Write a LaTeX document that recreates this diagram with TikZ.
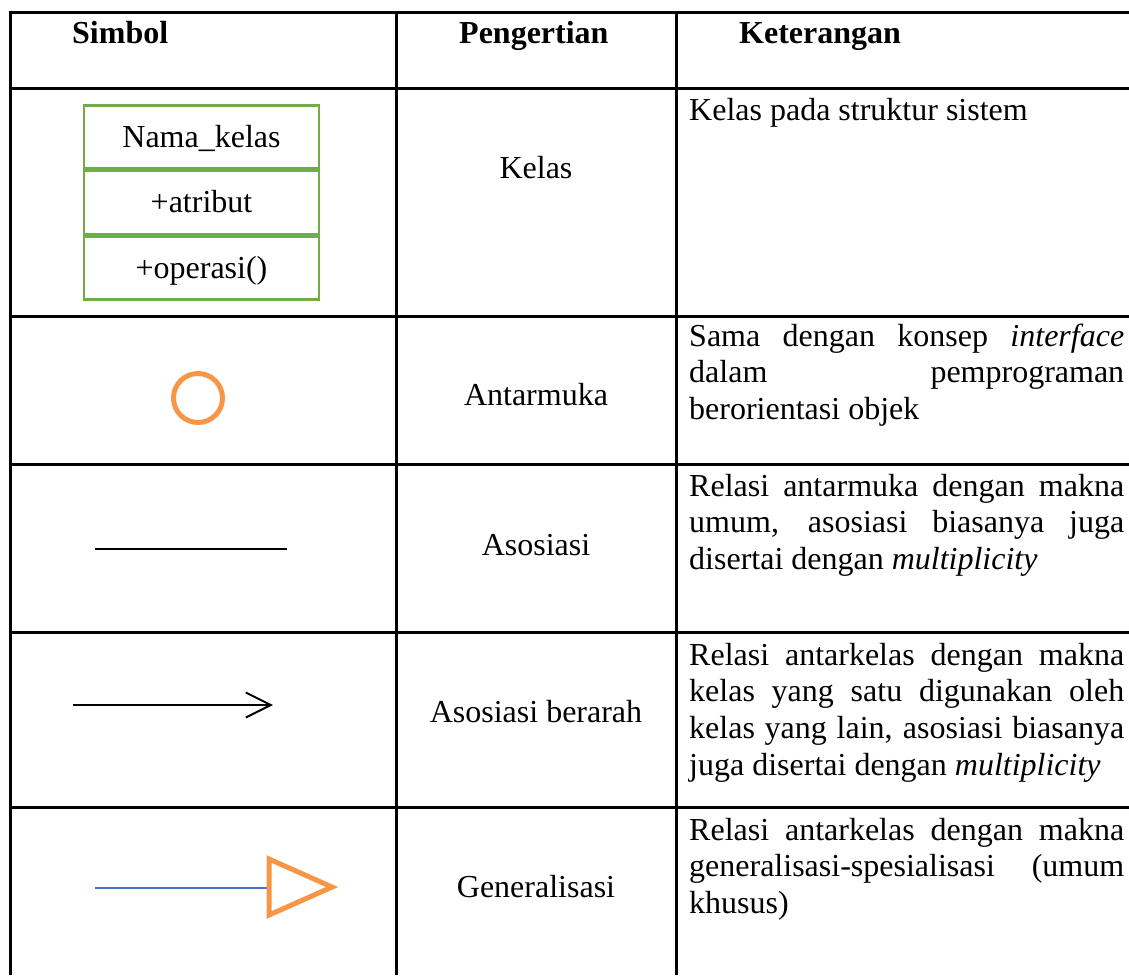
\documentclass[tikz,border=0pt]{standalone}
\usepackage{fontspec}
\setmainfont{Liberation Serif}
\usetikzlibrary{arrows.meta}
\definecolor{classgreen}{HTML}{70AD47}
\definecolor{symorange}{HTML}{F79646}
\definecolor{genblue}{HTML}{4472C4}
\newlength{\descw}
\setlength{\descw}{435pt}
\newcommand{\jline}[1]{\makebox[\descw][s]{#1}}

\begin{document}
\begin{tikzpicture}[x=1pt,y=-1pt,
  rule/.style={line width=3pt, black},
  txt/.style={inner sep=0pt, font=\fontsize{32}{36.8}\selectfont},
  headtxt/.style={txt, anchor=base west, font=\fontsize{32}{36.8}\selectfont\bfseries},
  term/.style={txt, anchor=base},
  desc/.style={txt, anchor=base west},
  compart/.style={txt, draw=classgreen, line width=2.5pt, minimum width=235pt,
    minimum height=63pt, text height=25pt, text depth=4pt, anchor=north},
  iface/.style={circle, draw=symorange, line width=5pt, minimum size=49pt, inner sep=0pt},
  assoc/.style={line width=2pt, black},
  gentri/.style={draw=symorange, line width=5pt, line join=miter}
]
\useasboundingbox (0,0) rectangle (1129,975);

% table rules
\foreach \yy in {12,88,316,464,632,807}
  \draw[rule] (8.5,\yy) -- (1129,\yy);
\foreach \xx in {10,396,676}
  \draw[rule] (\xx,10.5) -- (\xx,975);

% header row
\node[headtxt] (hsym) at (72,43) {Simbol};
\node[headtxt] (hdef) at (459,43) {Pengertian};
\node[headtxt] (hdesc) at (739,43) {Keterangan};

% class symbol
\node[compart] (cname) at (201.5,104) {Nama\_kelas};
\node[compart] (cattr) at (cname.south) {+atribut};
\node[compart] (cop) at (cattr.south) {+operasi()};

% interface symbol
\node[iface] (ifc) at (198,398) {};

% association
\coordinate (as1) at (95,549);
\coordinate (as2) at (287,549);
\draw[assoc] (as1) -- (as2);

% directed association
\coordinate (da1) at (73,705);
\coordinate (da2) at (273,705);
\draw[assoc, -{Straight Barb[length=25pt,width=25pt,line width=2pt]}] (da1) -- (da2);

% generalization
\coordinate (gt1) at (269,859);
\coordinate (gt2) at (332,887);
\coordinate (gt3) at (269,915);
\coordinate (gl1) at (95,888);
\coordinate (gl2) at (267,888);
\draw[genblue, line width=2pt] (gl1) -- (gl2);
\draw[gentri] (gt1) -- (gt2) -- (gt3) -- cycle;

% names
\node[term] (tkelas) at (536,178) {Kelas};
\node[term] (tantar) at (536,405) {Antarmuka};
\node[term] (tasos) at (536,555) {Asosiasi};
\node[term] (tasosb) at (536,722) {Asosiasi berarah};
\node[term] (tgen) at (536,897) {Generalisasi};

% descriptions
\node[desc] (dkelas) at (689,120) {Kelas pada struktur sistem};
\node[desc] (dantar) at (689,346) {\parbox[t]{\descw}{%
  \jline{Sama dengan konsep \textit{interface}}\\
  \jline{dalam pemprograman}\\
  berorientasi objek}};
\node[desc] (dasos) at (689,496) {\parbox[t]{\descw}{%
  \jline{Relasi antarmuka dengan makna}\\
  \jline{umum, asosiasi biasanya juga}\\
  disertai dengan \textit{multiplicity}}};
\node[desc] (dasosb) at (689,665) {\parbox[t]{\descw}{%
  \jline{Relasi antarkelas dengan makna}\\
  \jline{kelas yang satu digunakan oleh}\\
  \jline{kelas yang lain, asosiasi biasanya}\\
  juga disertai dengan \textit{multiplicity}}};
\node[desc] (dgen) at (689,840) {\parbox[t]{\descw}{%
  \jline{Relasi antarkelas dengan makna}\\
  \jline{generalisasi-spesialisasi (umum}\\
  khusus)}};
\end{tikzpicture}
\end{document}
